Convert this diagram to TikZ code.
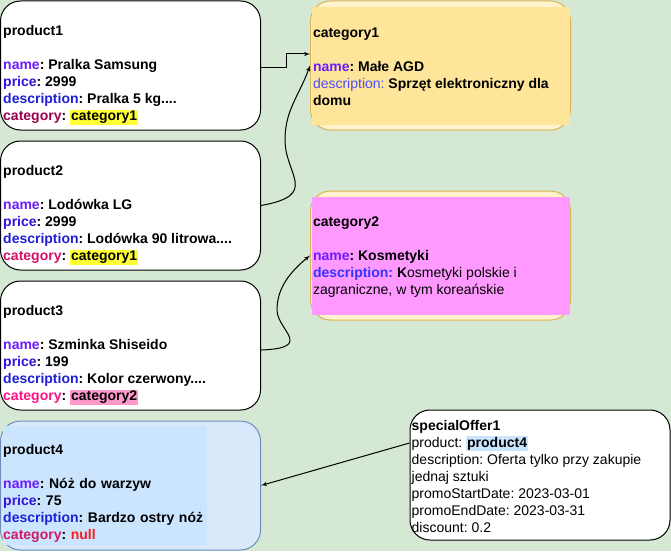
\documentclass[tikz,border=0pt]{standalone}
\usepackage{fontspec}
\setmainfont{Liberation Sans}
\usetikzlibrary{arrows, positioning, calc}
\frenchspacing

\definecolor{bgGreen}{HTML}{D5E8D4}
\definecolor{catFill}{HTML}{FFF2CC}
\definecolor{catLine}{HTML}{D6B656}
\definecolor{catOneIn}{HTML}{FFE599}
\definecolor{catTwoIn}{HTML}{FF99FF}
\definecolor{prodFourFill}{HTML}{DAE8FC}
\definecolor{prodFourLine}{HTML}{6C8EBF}
\definecolor{prodFourIn}{HTML}{CCE5FF}
\definecolor{keyName}{HTML}{6A1BFF}
\definecolor{keyPrice}{HTML}{3311DD}
\definecolor{keyDesc}{HTML}{1F1FD6}
\definecolor{keyDescLight}{HTML}{4C4CFF}
\definecolor{keyDescBold}{HTML}{3333FF}
\definecolor{keyCatA}{HTML}{99004D}
\definecolor{keyCatB}{HTML}{D4106A}
\definecolor{keyCatC}{HTML}{FF0F87}
\definecolor{keyCatD}{HTML}{CC1A66}
\definecolor{hlYellow}{HTML}{FFFF33}
\definecolor{hlPink}{HTML}{FF99CC}
\definecolor{nullRed}{HTML}{FF1A1A}

\newcommand{\hlbox}[2]{{\setlength{\fboxsep}{1pt}\colorbox{#1}{#2}}}

\begin{document}
\begin{tikzpicture}[
        x=1pt, y=-1pt,
        font=\fontsize{14}{17}\selectfont,
        object/.style={rectangle, draw=black, line width=1pt, fill=white, rounded corners=20pt, minimum width=260pt, minimum height=129pt},
        category/.style={object, draw=catLine, fill=catFill},
        inner/.style={rectangle, inner sep=0pt, minimum width=258pt, minimum height=118pt},
        label/.style={inner sep=0pt, align=left, anchor=west},
        prodlabel/.style={label, font=\fontsize{14}{17}\selectfont\bfseries},
        line/.style={draw, line width=1pt, -latex'}
    ]
        \useasboundingbox (0,0) rectangle (671,551);
        \fill[bgGreen] (0,0) rectangle (671,551);

        % Products
        \node[object] (p1) at (130.5,65.5) {};
        \node[object] (p2) at (130.5,205.5) {};
        \node[object] (p3) at (130.5,345.5) {};
        \node[object, draw=prodFourLine, fill=prodFourFill] (p4) at (130.5,485.5) {};

        \node[prodlabel] (p1l) at ($(p1.west)+(3,1)$) {\strut\\product1\\\strut\\\textcolor{keyName}{name}: Pralka Samsung\\\textcolor{keyPrice}{price}: 2999\\\textcolor{keyDesc}{description}: Pralka 5 kg....\\\textcolor{keyCatA}{category}: \hlbox{hlYellow}{category1}\strut};
        \node[prodlabel] (p2l) at ($(p2.west)+(3,1)$) {\strut\\product2\\\strut\\\textcolor{keyName}{name}: Lodówka LG\\\textcolor{keyPrice}{price}: 2999\\\textcolor{keyDesc}{description}: Lodówka 90 litrowa....\\\textcolor{keyCatB}{category}: \hlbox{hlYellow}{category1}\strut};
        \node[prodlabel] (p3l) at ($(p3.west)+(3,1)$) {\strut\\product3\\\strut\\\textcolor{keyName}{name}: Szminka Shiseido\\\textcolor{keyPrice}{price}: 199\\\textcolor{keyDesc}{description}: Kolor czerwony....\\\textcolor{keyCatC}{category}: \hlbox{hlPink}{category2}\strut};
        \node[prodlabel, fill=prodFourIn, text width=204pt, minimum height=117pt] (p4l) at ($(p4.west)+(3,0)$) {\strut\\product4\\\strut\\\textcolor{keyName}{name}: Nóż do warzyw\\\textcolor{keyPrice}{price}: 75\\\textcolor{keyDesc}{description}: Bardzo ostry nóż\\\textcolor{keyCatD}{category}: \textcolor{nullRed}{null}\strut};

        % Categories
        \node[category] (c1) at (440.5,65.5) {};
        \node[category] (c2) at (440.5,255.5) {};
        \node[inner, fill=catOneIn] (c1in) at (441,66) {};
        \node[inner, fill=catTwoIn] (c2in) at (441,256) {};

        \node[label] (c1l) at ($(c1in.west)+(1,2)$) {\strut\textbf{category1}\\\strut\\\textbf{\textcolor{keyName}{name}: Małe AGD}\\\textcolor{keyDescLight}{description:} \textbf{Sprzęt elektroniczny dla}\\\textbf{domu}\strut};
        \node[label] (c2l) at ($(c2in.west)+(1,1.5)$) {\strut\textbf{category2}\\\strut\\\textbf{\textcolor{keyName}{name}: Kosmetyki}\\\textbf{\textcolor{keyDescBold}{description:} K}osmetyki polskie i\\zagraniczne, w tym koreańskie\strut};

        % Special offer
        \node[object, minimum height=130pt] (so1) at (540,475) {};
        \node[label] (so1l) at ($(so1.west)+(2,3)$) {\strut\textbf{specialOffer1}\\product: \hlbox{prodFourIn}{\textbf{product4}}\\description: Oferta tylko przy zakupie\\jednaj sztuki\\promoStartDate: 2023-03-01\\promoEndDate: 2023-03-31\\discount: 0.2\strut};

        % Connections
        \draw[line] ($(p1.east)+(0,1.5)$) -- ++(25,0) |- ($(c1.west)+(0,-11.5)$);
        \draw[line] (p2.east) .. controls (320,195) and (285,175) .. (285,140) .. controls (285,110) and (299,96) .. (c1.west);
        \draw[line] ($(p3.east)+(0,4.5)$) .. controls (315,348) and (277,330) .. (277,310) .. controls (277,288) and (290,272) .. (c2.west);
        \draw[line] ($(so1.west)+(0,-32)$) -- (p4.east);
    \end{tikzpicture}
\end{document}
